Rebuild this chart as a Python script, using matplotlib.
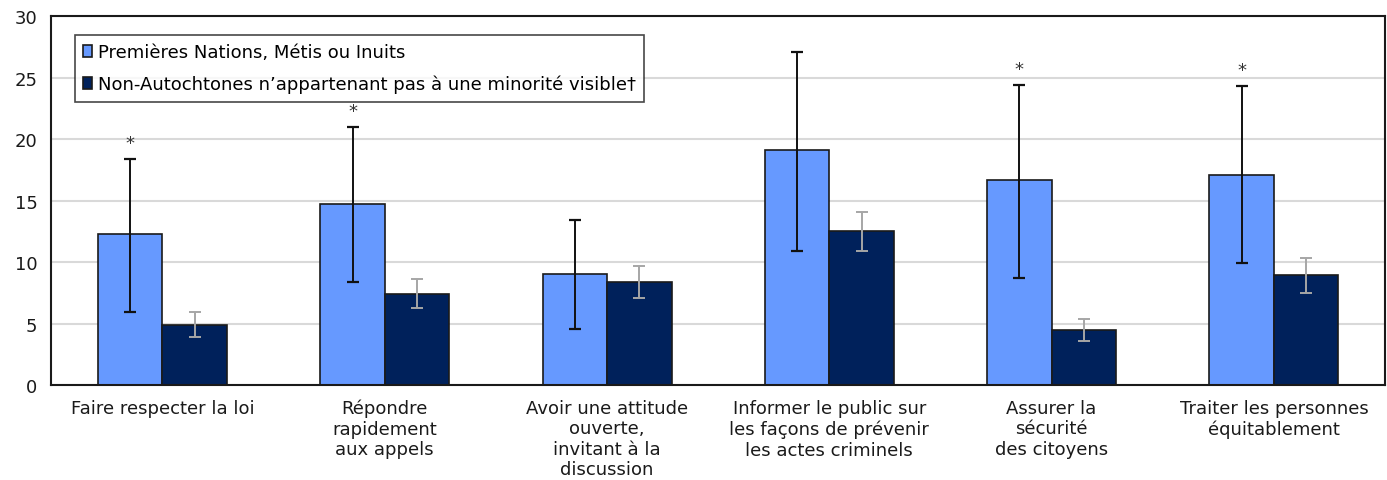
import numpy as np
import matplotlib.pyplot as plt

categories = [
    "Faire respecter la loi",
    "Répondre\nrapidement\naux appels",
    "Avoir une attitude\nouverte,\ninvitant à la\ndiscussion",
    "Informer le public sur\nles façons de prévenir\nles actes criminels",
    "Assurer la\nsécurité\ndes citoyens",
    "Traiter les personnes\néquitablement",
]

# Premières Nations, Métis ou Inuits
autochtones = [12.3, 14.7, 9.0, 19.1, 16.7, 17.1]
autochtones_bas = [5.9, 8.35, 4.55, 10.9, 8.7, 9.9]
autochtones_haut = [18.4, 21.0, 13.4, 27.1, 24.4, 24.3]

# Non-Autochtones n'appartenant pas à une minorité visible (référence)
non_autochtones = [4.9, 7.4, 8.35, 12.55, 4.5, 8.95]
non_autochtones_bas = [3.9, 6.3, 7.1, 10.9, 3.6, 7.5]
non_autochtones_haut = [5.9, 8.6, 9.7, 14.1, 5.4, 10.3]

# différence significative par rapport au groupe de référence
significatif = [True, True, False, False, True, True]

plt.rcParams["font.family"] = ["DejaVu Sans"]

fig = plt.figure(figsize=(13.87, 4.81), dpi=100)
ax = fig.add_axes([0.037, 0.1975, 0.9616, 0.767])

x = np.arange(len(categories))
w = 0.29

a = np.array(autochtones)
n = np.array(non_autochtones)
err_a = [a - np.array(autochtones_bas), np.array(autochtones_haut) - a]
err_n = [n - np.array(non_autochtones_bas), np.array(non_autochtones_haut) - n]

ax.bar(x - w / 2, a, w, color="#6699FF", edgecolor="#1a1a1a", linewidth=1.2,
       label="Premières Nations, Métis ou Inuits", zorder=2)
ax.bar(x + w / 2, n, w, color="#00215B", edgecolor="#1a1a1a", linewidth=1.2,
       label="Non-Autochtones n’appartenant pas à une minorité visible†", zorder=2)

ax.errorbar(x - w / 2, a, yerr=err_a, fmt="none", ecolor="#111111",
            elinewidth=1.4, capsize=4, capthick=1.6, zorder=3)
ax.errorbar(x + w / 2, n, yerr=err_n, fmt="none", ecolor="#a6a6a6",
            elinewidth=1.4, capsize=4, capthick=1.4, zorder=3)

for i, sig in enumerate(significatif):
    if sig:
        ax.text(x[i] - w / 2, autochtones_haut[i] + 1.3, "*", ha="center",
                va="center", fontsize=13, color="#333333", zorder=5)

ax.set_xlim(-0.5, len(categories) - 0.5)
ax.set_ylim(0, 30)
ax.set_yticks(range(0, 31, 5))
ax.yaxis.grid(True, color="#d9d9d9", linewidth=1.5, zorder=0)
ax.set_axisbelow(True)
ax.tick_params(axis="both", length=0, labelsize=13, colors="#1a1a1a")
ax.tick_params(axis="y", pad=10)
ax.tick_params(axis="x", pad=10)
ax.set_xticks(x)
ax.set_xticklabels(categories, linespacing=1.18)
for s in ax.spines.values():
    s.set_color("#1a1a1a")
    s.set_linewidth(1.5)

leg = ax.legend(loc="upper left", bbox_to_anchor=(0.018, 0.948), fontsize=13,
                frameon=True, fancybox=False, handlelength=0.5,
                handleheight=0.7, handletextpad=0.3, borderpad=0.45,
                labelspacing=0.75, borderaxespad=0)
leg.get_frame().set_edgecolor("#1a1a1a")
leg.get_frame().set_linewidth(1.2)

fig.savefig("out.png", dpi=100)
